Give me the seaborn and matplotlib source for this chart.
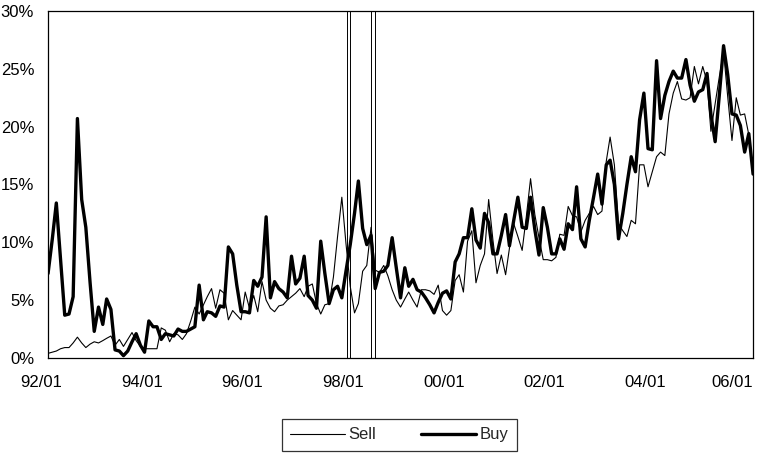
import pandas as pd
import seaborn as sns
import matplotlib.pyplot as plt
import matplotlib.dates as mdates
from matplotlib.ticker import FuncFormatter
from matplotlib.transforms import ScaledTranslation

# monthly values in percent, 92/01 .. 06/01
sell = [0.4, 0.5, 0.6, 0.8, 0.9, 0.9, 1.3, 1.8, 1.3, 0.9,
        1.2, 1.4, 1.3, 1.5, 1.7, 1.9, 1.1, 1.6, 1.0, 1.6,
        2.2, 1.5, 1.0, 0.8, 0.8, 0.8, 0.8, 2.6, 2.4, 1.4,
        2.1, 2.0, 1.6, 2.1, 3.2, 4.4, 3.8, 4.6, 5.3, 6.0,
        4.3, 5.9, 5.6, 3.3, 4.1, 3.7, 3.3, 5.7, 4.3, 5.4,
        4.0, 6.6, 5.0, 4.3, 4.0, 4.5, 4.6, 5.0, 5.3, 5.6,
        6.0, 5.3, 6.2, 6.4, 4.7, 3.8, 4.6, 4.7, 7.0, 10.5,
        13.9, 9.9, 6.2, 3.9, 4.7, 7.5, 8.0, 11.3, 7.6, 7.4,
        8.0, 7.1, 5.9, 5.0, 4.4, 5.1, 5.7, 5.0, 4.4, 5.9,
        5.9, 5.8, 5.5, 6.3, 4.1, 3.7, 4.1, 6.7, 7.2, 5.7,
        10.1, 11.0, 6.5, 8.0, 9.0, 13.7, 10.2, 7.3, 8.9, 7.2,
        9.5, 11.6, 10.5, 9.3, 12.2, 15.5, 12.4, 10.4, 8.5, 8.5,
        8.4, 8.7, 10.7, 10.6, 13.1, 12.3, 12.2, 10.9, 11.9, 12.5,
        13.1, 12.4, 12.7, 17.0, 19.1, 16.7, 11.6, 11.0, 10.5, 11.9,
        11.6, 16.7, 16.7, 14.8, 16.1, 17.4, 17.8, 17.5, 21.1, 22.9,
        23.9, 22.4, 22.3, 22.5, 25.2, 23.7, 25.2, 23.9, 19.6, 22.0,
        24.3, 26.5, 22.6, 18.8, 22.5, 21.0, 21.1, 19.3, 15.9]

buy = [7.3, 10.3, 13.4, 8.5, 3.7, 3.8, 5.3, 20.7, 13.7, 11.3,
       6.5, 2.3, 4.4, 2.9, 5.1, 4.2, 0.7, 0.6, 0.2, 0.6,
       1.4, 2.1, 1.1, 0.5, 3.2, 2.7, 2.7, 1.6, 2.1, 2.0,
       1.9, 2.5, 2.3, 2.3, 2.5, 2.7, 6.3, 3.3, 4.0, 3.9,
       3.6, 4.5, 4.4, 9.6, 9.0, 6.3, 4.0, 4.0, 3.9, 6.7,
       6.2, 7.0, 12.2, 5.2, 6.6, 6.0, 5.7, 5.2, 8.8, 6.4,
       6.9, 8.8, 5.4, 5.0, 4.3, 10.1, 7.3, 4.7, 5.9, 6.2,
       5.2, 7.5, 9.8, 12.5, 15.3, 11.2, 9.8, 10.6, 6.0, 7.4,
       7.5, 8.0, 10.4, 7.8, 5.2, 7.8, 6.2, 6.8, 5.9, 5.7,
       5.2, 4.6, 3.9, 4.8, 5.6, 5.8, 5.1, 8.3, 9.0, 10.4,
       10.4, 12.9, 10.2, 9.5, 12.5, 11.7, 9.0, 9.0, 10.6, 12.4,
       9.7, 11.9, 13.9, 11.3, 11.2, 13.9, 11.1, 8.9, 13.0, 11.3,
       9.0, 9.0, 10.3, 9.4, 11.6, 11.1, 14.8, 10.3, 9.6, 11.9,
       13.9, 15.9, 13.3, 16.7, 17.1, 15.0, 10.3, 12.5, 15.0, 17.4,
       16.1, 20.6, 22.9, 18.1, 18.0, 25.7, 20.7, 22.7, 23.9, 24.8,
       24.2, 24.2, 25.8, 23.6, 22.2, 23.0, 23.2, 24.6, 21.1, 18.7,
       22.7, 27.0, 24.5, 21.1, 21.0, 20.1, 17.8, 19.4, 15.9]

dates = pd.date_range("1992-01-01", periods=len(buy), freq="MS")
tick_dates = pd.date_range("1992-01-01", "2006-01-01", freq="24MS")
events = ["1997-12-20", "1998-06-15"]   # double vertical markers

df = pd.DataFrame({"date": dates, "Sell": sell, "Buy": buy})

sns.set_style("white")
plt.rcParams["font.family"] = ["Liberation Sans", "DejaVu Sans"]

fig = plt.figure(figsize=(7.75, 4.54), dpi=100)
ax = fig.add_axes([0.062, 0.2115, 0.9097, 0.7643])

sns.lineplot(data=df, x="date", y="Sell", color="black", linewidth=0.8, label="Sell", ax=ax)
sns.lineplot(data=df, x="date", y="Buy", color="black", linewidth=2.4, label="Buy", ax=ax)

for d in events:
    d = pd.Timestamp(d)
    for off in (-11, 11):
        ax.axvline(d + pd.Timedelta(days=off), color="black", linewidth=0.7)

ax.set_xlim(dates[0], dates[-1])
ax.set_ylim(0, 30)
ax.set_yticks(range(0, 31, 5))
ax.yaxis.set_major_formatter(FuncFormatter(lambda v, p: f"{v:.0f}%"))
ax.set_xticks(tick_dates)
ax.xaxis.set_major_formatter(mdates.DateFormatter("%y/%m"))
ax.set_xlabel("")
ax.set_ylabel("")
ax.tick_params(axis="both", labelsize=12, length=4, width=0.8, direction="out",
               color="black", labelcolor="black")
ax.tick_params(axis="x", pad=8)
ax.tick_params(axis="y", pad=6)
for s in ax.spines.values():
    s.set_color("black")
    s.set_linewidth(0.9)

# date labels sit a little left of their ticks, last one kept inside the frame
shift = ScaledTranslation(-7 / 100, 0, fig.dpi_scale_trans)
xlabels = ax.get_xticklabels()
for lab in xlabels[:-1]:
    lab.set_transform(lab.get_transform() + shift)
xlabels[-1].set_horizontalalignment("right")

ax.get_legend().remove()
h, l = ax.get_legend_handles_labels()
leg = fig.legend(h, l, loc="center", bbox_to_anchor=(0.515, 0.042), ncol=2,
                 fontsize=12, frameon=True, fancybox=False, edgecolor="black",
                 handlelength=3.3, handletextpad=0.2, columnspacing=2.7,
                 borderpad=0.5)
leg.get_frame().set_linewidth(0.9)

fig.savefig("out.png", dpi=100)
